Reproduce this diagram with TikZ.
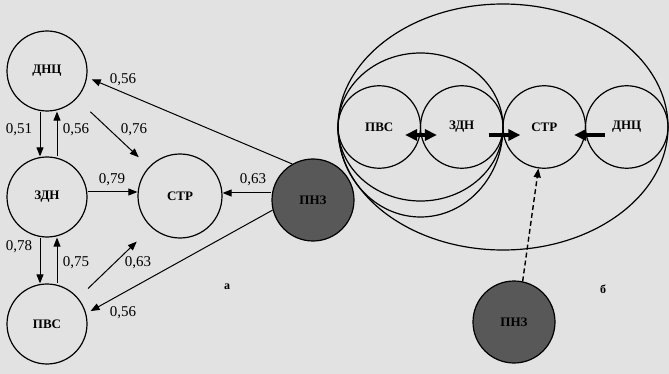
\documentclass[tikz,border=0pt]{standalone}
\usepackage{fontspec}
\setmainfont{Liberation Serif}
\newfontfamily\serifcyr{Liberation Serif}
\usetikzlibrary{arrows.meta}
\definecolor{bg}{RGB}{226,226,226}
\definecolor{dark}{RGB}{88,88,88}
\begin{document}
\begin{tikzpicture}[x=1pt,y=-1pt,
  nd/.style={circle,draw,line width=1.2pt,minimum size=80pt,inner sep=0pt,font=\serifcyr\fontsize{13}{13}\selectfont\bfseries},
  lw/.style={line width=1.2pt},
  arr/.style={line width=1pt,-{Triangle[length=9pt,width=7pt]}},
  num/.style={font=\serifcyr\fontsize{15}{15}\selectfont},
  tag/.style={font=\serifcyr\fontsize{12}{12}\selectfont\bfseries},
  bigr/.style={line width=3.5pt,-{Triangle[length=12pt,width=11pt]}},
  bigd/.style={line width=3.5pt,{Triangle[length=12pt,width=11pt]}-{Triangle[length=12pt,width=11pt]}},
  dsh/.style={line width=1.4pt,dash pattern=on 5pt off 3pt,-{Triangle[length=9pt,width=7pt]}}]
\useasboundingbox (0,0) rectangle (669,374);
\fill[bg] (0,0) rectangle (669,374);
% left panel
\node[nd] (dnc) at (47,71) {ДНЦ};
\node[nd] (zdn) at (47,197) {ЗДН};
\node[nd] (pvs) at (47,324) {ПВС};
\node[nd,minimum size=84pt] (str) at (180,196) {СТР};
\node[nd,fill=dark,minimum size=82pt] (pnz) at (313,200) {ПНЗ};
\draw[arr] ([xshift=-7pt]dnc.south) -- ([xshift=-7pt]zdn.north);
\draw[arr] ([xshift=10pt]zdn.north) -- ([xshift=10pt]dnc.south);
\draw[arr] ([xshift=-7pt]zdn.south) -- ([xshift=-7pt]pvs.north);
\draw[arr] ([xshift=10pt]pvs.north) -- ([xshift=10pt]zdn.south);
\draw[arr,shorten <=19pt,shorten >=14pt] (dnc) -- (str);
\draw[arr] ([yshift=5pt]zdn.east) -- ([yshift=5pt]zdn.east -| str.west);
\draw[arr] ([yshift=7pt]pnz.west) -- ([yshift=7pt]pnz.west -| str.east);
\draw[arr,shorten >=5pt] (pnz.120) -- (dnc.-9);
\draw[arr,shorten >=5pt] (pnz.194) -- (pvs.15);
\draw[arr,shorten <=57pt,shorten >=60pt] ([yshift=-4pt]pvs.center) -- ([yshift=-4pt]str.center);
\node[num] (n1) at (123,80) {0,56};
\node[num] (n2) at (19,130) {0,51};
\node[num] (n3) at (76,130) {0,56};
\node[num] (n4) at (134,130) {0,76};
\node[num] (n5) at (112,180) {0,79};
\node[num] (n6) at (253,180) {0,63};
\node[num] (n7) at (19,247) {0,78};
\node[num] (n8) at (76,263) {0,75};
\node[num] (n9) at (138,263) {0,63};
\node[num] (n10) at (123,313) {0,56};
\node[tag] (ta) at (227,287) {а};
% right panel
\draw[lw] (503,127) ellipse [x radius=165pt, y radius=123pt];
\draw[lw] (420.5,127) ellipse [x radius=82.5pt, y radius=74pt];
\draw[lw] (338,127) arc[start angle=180, end angle=360, x radius=82.5pt, y radius=90pt];
\node[nd,minimum size=82.5pt] (rpvs) at (379.25,127) {ПВС};
\node[nd,minimum size=82.5pt] (rzdn) at (461.75,127) {ЗДН};
\node[nd,minimum size=82.5pt] (rstr) at (544.25,127) {СТР};
\node[nd,minimum size=82.5pt] (rdnc) at (626.75,127) {ДНЦ};
\node[nd,fill=dark,minimum size=82pt] (rpnz) at (514,322) {ПНЗ};
\draw[bigd] ([xshift=-16pt,yshift=-8pt]rpvs.east) -- ([xshift=17pt,yshift=-8pt]rzdn.west);
\draw[bigr] ([xshift=-15pt,yshift=-8pt]rzdn.east) -- ([xshift=18pt,yshift=-8pt]rstr.west);
\draw[bigr] ([xshift=20pt,yshift=-8pt]rdnc.west) -- ([xshift=-12pt,yshift=-8pt]rstr.east);
\draw[dsh] (rpnz.78) -- (rstr.-98);
\node[tag] (tb) at (603,289) {б};
\end{tikzpicture}
\end{document}
